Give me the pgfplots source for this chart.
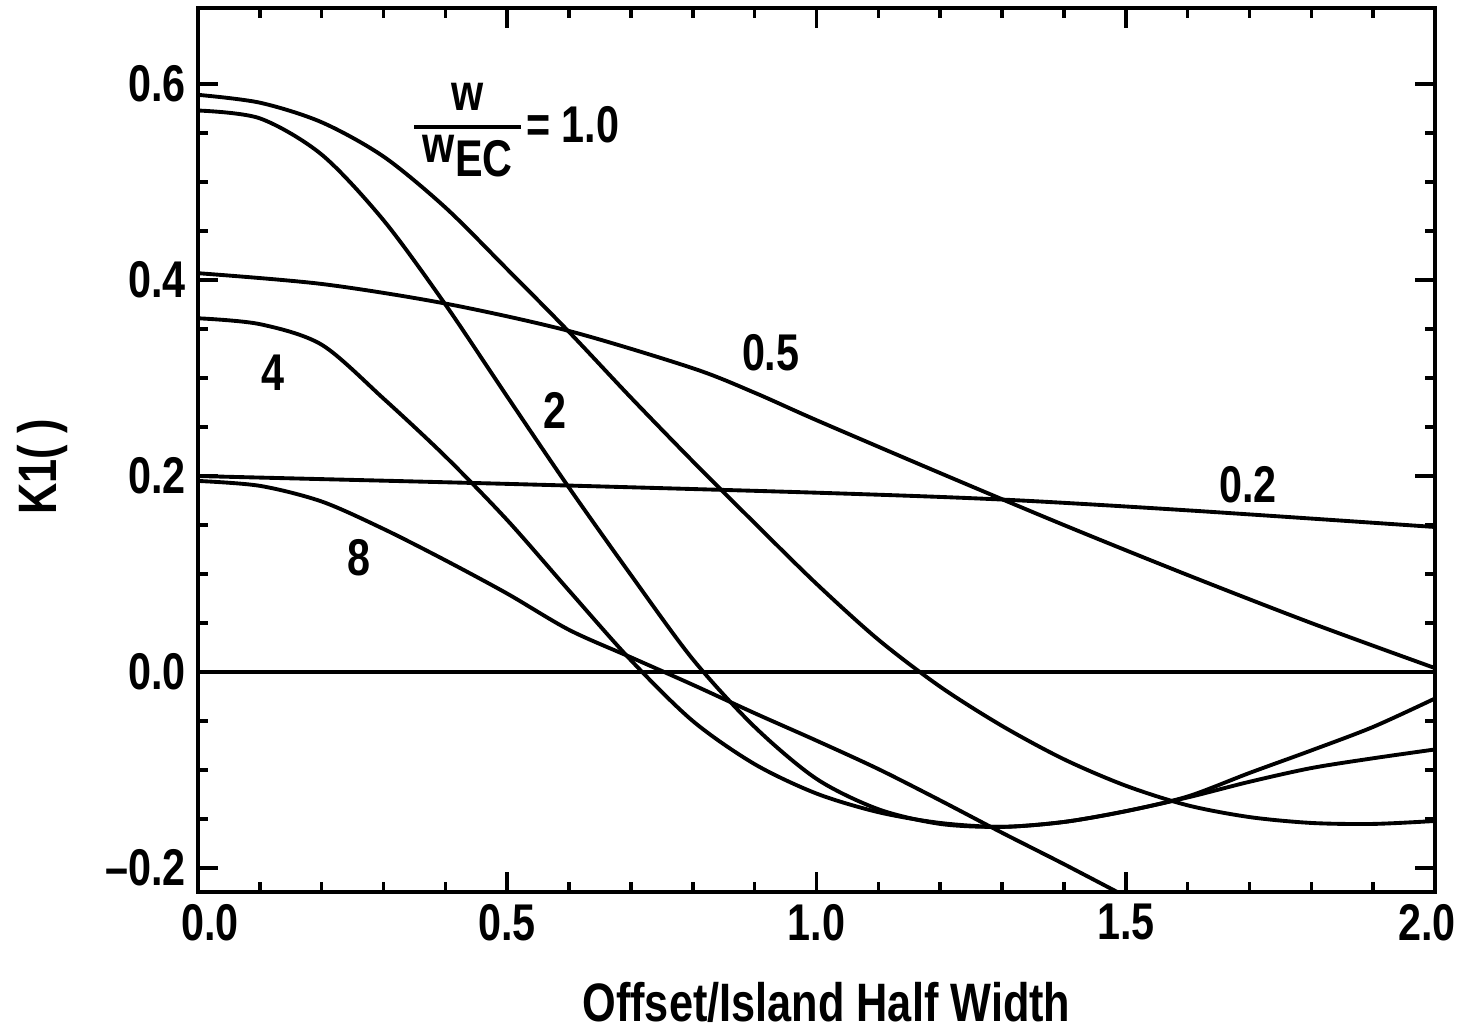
\documentclass[border=0pt]{standalone}
\usepackage{pgfplots}
\pgfplotsset{compat=1.18}
\usepackage{fontspec}
\setmainfont{Liberation Sans}[FakeStretch=0.8]
\begin{document}
\begin{tikzpicture}
\begin{axis}[name=ax, scale only axis, width=12.37cm, height=8.84cm,
  xmin=0, xmax=2, ymin=-0.2245, ymax=0.6776,
  xtick={0,0.5,1,1.5,2},
  xticklabels={\hspace*{0.24cm}0.0, 0.5, 1.0, 1.5, 2.0\hspace*{0.16cm}},
  ytick={-0.2,0,0.2,0.4,0.6},
  yticklabels={\textendash0.2,0.0,0.2,0.4,0.6},
  minor x tick num=4, minor y tick num=3,
  tick pos=both, xticklabel pos=lower, yticklabel pos=left,
  tick align=inside,
  major tick length=0.2cm, minor tick length=0.1cm,
  every tick/.style={black, line width=1pt},
  axis line style={line width=1.3pt},
  tick label style={font=\bfseries\fontsize{14.7}{16}\selectfont},
  xlabel={Offset/Island Half Width}, ylabel={K1( )},
  label style={font=\bfseries\fontsize{15.4}{18}\selectfont},
  xlabel style={at={(axis description cs:0.508,-0.146)}, anchor=base},
  ylabel style={at={(axis description cs:-0.126,0.481)}, anchor=center},
  clip mode=individual,
  every axis plot/.append style={black, line width=1.1pt},
]
% zero line
\addplot[line width=0.95pt] coordinates {(0,0) (2,0)};
% w/wEC = 0.2
\addplot[smooth] coordinates {
(0,0.200) (0.5,0.192) (1.0,0.183) (1.3,0.176) (1.6,0.165) (2.0,0.148)};
% w/wEC = 0.5
\addplot[smooth] coordinates {
(0,0.407) (0.2,0.396) (0.4,0.376) (0.6,0.348) (0.8,0.310) (0.9,0.285) (1.0,0.257) (1.2,0.203) (1.4,0.150) (1.6,0.099) (1.8,0.050) (2.0,0.004)};
% w/wEC = 1.0
\addplot[smooth] coordinates {
(0,0.589) (0.1,0.581) (0.2,0.561) (0.3,0.526) (0.4,0.474) (0.5,0.411) (0.6,0.347) (0.7,0.280) (0.8,0.215) (0.9,0.152) (1.0,0.090) (1.1,0.033) (1.2,-0.015) (1.3,-0.055) (1.4,-0.089) (1.5,-0.116) (1.6,-0.136) (1.7,-0.148) (1.8,-0.154) (1.9,-0.155) (2.0,-0.152)};
% w/wEC = 2
\addplot[smooth] coordinates {
(0,0.573) (0.1,0.565) (0.2,0.528) (0.3,0.461) (0.4,0.375) (0.5,0.281) (0.6,0.188) (0.7,0.099) (0.8,0.013) (0.9,-0.056) (1.0,-0.109) (1.1,-0.140) (1.2,-0.155) (1.3,-0.158) (1.4,-0.153) (1.5,-0.142) (1.6,-0.127) (1.7,-0.103) (1.8,-0.080) (1.9,-0.056) (2.0,-0.027)};
% w/wEC = 4
\addplot[smooth] coordinates {
(0,0.361) (0.1,0.355) (0.2,0.334) (0.3,0.279) (0.4,0.220) (0.5,0.155) (0.6,0.083) (0.7,0.012) (0.8,-0.050) (0.9,-0.094) (1.0,-0.124) (1.1,-0.143) (1.2,-0.154) (1.3,-0.158) (1.4,-0.153) (1.5,-0.142) (1.6,-0.128) (1.7,-0.112) (1.8,-0.098) (1.9,-0.088) (2.0,-0.079)};
% w/wEC = 8
\addplot[smooth] coordinates {
(0,0.195) (0.1,0.190) (0.2,0.174) (0.3,0.146) (0.4,0.114) (0.5,0.080) (0.6,0.043) (0.7,0.015) (0.8,-0.013) (0.9,-0.042) (1.0,-0.070) (1.1,-0.099) (1.2,-0.131) (1.3,-0.164) (1.4,-0.196) (1.5,-0.229)};
% labels
\begin{scope}[every node/.style={font=\bfseries\fontsize{14.7}{16}\selectfont}]
\node at (axis cs:0.121,0.305) {4};
\node at (axis cs:0.577,0.267) {2};
\node at (axis cs:0.926,0.326) {0.5};
\node at (axis cs:1.698,0.191) {0.2};
\node at (axis cs:0.260,0.117) {8};
\node at (axis cs:0.436,0.556) {\setlength{\arrayrulewidth}{1.3pt}\renewcommand{\arraystretch}{0.85}\begin{tabular}{@{\,}c@{\,}}w\\\hline w\raisebox{-0.5ex}{EC}\end{tabular}};
\node at (axis cs:0.606,0.559) {= 1.0};
\end{scope}
\end{axis}
\pgfresetboundingbox
\path[use as bounding box] ([xshift=-1.98cm,yshift=-1.36cm]ax.south west) rectangle ([xshift=0.37cm,yshift=0.08cm]ax.north east);
\end{tikzpicture}
\end{document}
